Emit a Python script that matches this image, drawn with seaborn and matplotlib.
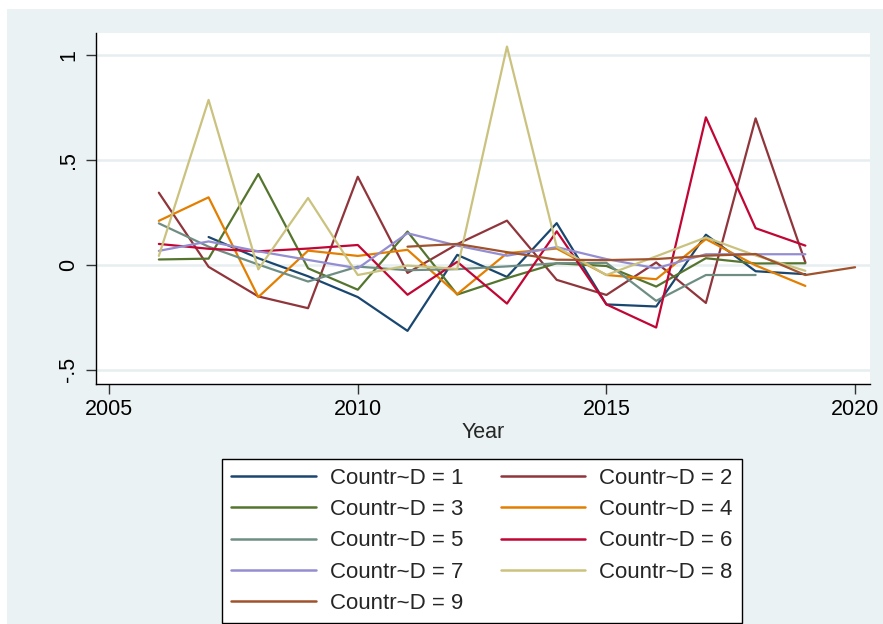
import numpy as np
import pandas as pd
import matplotlib
matplotlib.use("Agg")
import matplotlib.pyplot as plt
import seaborn as sns
from matplotlib.patches import Rectangle

# ---------------- data ----------------
years_c1 = list(range(2007, 2020))
c1 = [0.133, 0.032, -0.054, -0.153, -0.314, 0.048, -0.057, 0.199, -0.188, -0.198, 0.144, -0.030, -0.044]
years_c2 = list(range(2006, 2020))
c2 = [0.344, -0.009, -0.150, -0.206, 0.420, -0.038, 0.099, 0.211, -0.071, -0.143, 0.012, -0.181, 0.698, 0.012]
years_c3 = list(range(2006, 2020))
c3 = [0.026, 0.030, 0.433, -0.016, -0.118, 0.159, -0.141, -0.063, 0.008, -0.005, -0.103, 0.032, 0.007, 0.008]
years_c4 = list(range(2006, 2020))
c4 = [0.210, 0.322, -0.153, 0.068, 0.043, 0.072, -0.139, 0.056, 0.078, -0.048, -0.068, 0.123, -0.002, -0.100]
years_c5 = list(range(2006, 2019))
c5 = [0.198, 0.087, 0.002, -0.079, -0.008, -0.025, -0.020, -0.007, 0.008, 0.010, -0.171, -0.048, -0.048]
years_c6 = list(range(2006, 2020))
c6 = [0.100, 0.077, 0.065, 0.078, 0.095, -0.142, 0.015, -0.184, 0.160, -0.188, -0.298, 0.703, 0.175, 0.092]
years_c7 = list(range(2006, 2020))
c7 = [0.067, 0.112, 0.065, 0.024, -0.016, 0.151, 0.092, 0.044, 0.085, 0.028, -0.016, 0.051, 0.051, 0.051]
years_c8 = list(range(2006, 2020))
c8 = [0.043, 0.786, -0.021, 0.319, -0.048, -0.003, -0.019, 1.040, 0.086, -0.048, 0.041, 0.131, 0.045, -0.028]
years_c9 = list(range(2011, 2021))
c9 = [0.087, 0.100, 0.061, 0.025, 0.023, 0.028, 0.044, 0.052, -0.048, -0.011]

labels = ["Countr~D = %d" % i for i in range(1, 10)]
colors = ["#1a476f", "#90353b", "#55752f", "#e37e00", "#6e8e84",
          "#c10534", "#938dd2", "#cac27e", "#a0522d"]
x_ticks = [2005, 2010, 2015, 2020]
y_ticks = [-0.5, 0, 0.5, 1]
y_ticklabels = ["-.5", "0", ".5", "1"]

series = [(years_c1, c1), (years_c2, c2), (years_c3, c3), (years_c4, c4), (years_c5, c5),
          (years_c6, c6), (years_c7, c7), (years_c8, c8), (years_c9, c9)]
frames = []
for lab, (yrs, vals) in zip(labels, series):
    frames.append(pd.DataFrame({"Year": yrs, "value": vals, "group": lab}))
df = pd.concat(frames, ignore_index=True)

# ---------------- style ----------------
sns.set_style("white")
plt.rcParams["font.family"] = ["Liberation Sans", "DejaVu Sans"]

W, H = 883, 624
fig = plt.figure(figsize=(W / 100, H / 100), dpi=100)
fig.patch.set_facecolor("white")
bg = Rectangle((7 / W, 0), 1 - 7 / W, (H - 9) / H, transform=fig.transFigure,
               facecolor="#eaf2f3", edgecolor="none", zorder=-10)
fig.patches.append(bg)

ax = fig.add_axes([95.7 / W, (H - 384) / H, (870 - 95.7) / W, (384 - 32.7) / H])
ax.set_facecolor("white")

sns.lineplot(data=df, x="Year", y="value", hue="group", hue_order=labels,
             palette=colors, errorbar=None, linewidth=1.6, ax=ax, sort=True)

ax.set_xlim(2004.73, 2020.30)
ax.set_ylim(-0.567, 1.106)
ax.set_xticks(x_ticks)
ax.set_xticklabels([str(t) for t in x_ticks])
ax.set_yticks(y_ticks)
ax.set_yticklabels(y_ticklabels, rotation=90, va="center")

ax.grid(axis="y", color="#e6eef0", linewidth=1.8)
ax.grid(axis="x", visible=False)
ax.set_axisbelow(True)

for s in ["top", "right"]:
    ax.spines[s].set_visible(False)
for s in ["left", "bottom"]:
    ax.spines[s].set_color("black")
    ax.spines[s].set_linewidth(1.0)

ax.tick_params(axis="both", which="both", direction="out", length=7, width=1.0,
               color="#333333", labelsize=15.5, labelcolor="black")
ax.tick_params(axis="x", pad=4)
ax.tick_params(axis="y", pad=5, left=True)
ax.tick_params(axis="x", bottom=True)

ax.set_xlabel("Year", fontsize=15.5, labelpad=1)
ax.set_ylabel("")

handles, labs = ax.get_legend_handles_labels()
if ax.get_legend() is not None:
    ax.get_legend().remove()
for h in handles:
    h.set_linewidth(1.8)

# row-wise ordering for a 2-column legend (matplotlib fills column-first)
order = [0, 2, 4, 6, 8, 1, 3, 5, 7]
handles = [handles[i] for i in order]
labs = [labs[i] for i in order]

leg = fig.legend(handles, labs, loc="upper center", ncol=2,
                 bbox_to_anchor=(482 / W, 1 - 458.5 / H), bbox_transform=fig.transFigure,
                 fontsize=16, frameon=True, fancybox=False, shadow=False,
                 handlelength=3.8, handletextpad=0.63, columnspacing=1.7,
                 labelspacing=0.46, borderpad=0.42, borderaxespad=0)
leg.get_frame().set_edgecolor("black")
leg.get_frame().set_linewidth(1.0)
leg.get_frame().set_facecolor("white")
leg.get_frame().set_alpha(1)

fig.savefig("out.png", dpi=100, facecolor=fig.get_facecolor())
